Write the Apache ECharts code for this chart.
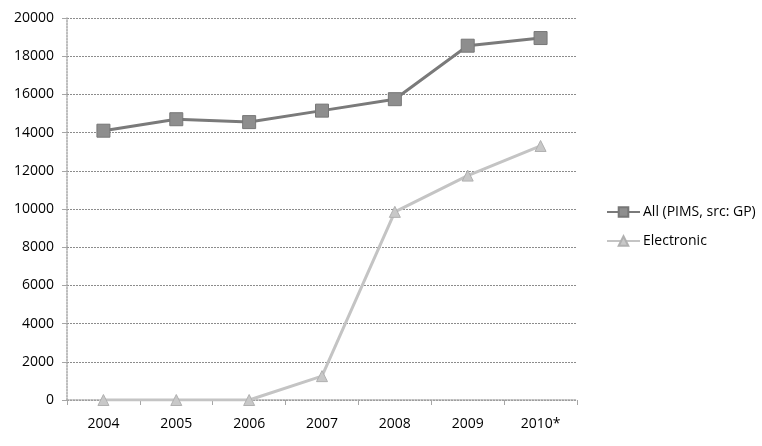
<!DOCTYPE html>
<html><head><meta charset="utf-8">
<script src="https://cdn.jsdelivr.net/npm/echarts@6/dist/echarts.min.js"></script>
<style>html,body{margin:0;padding:0;background:#fff}#c{width:762px;height:446px}</style>
</head><body><div id="c"></div>
<script>
const categories = ['2004','2005','2006','2007','2008','2009','2010*'];
const allValues = [14100, 14700, 14550, 15150, 15750, 18550, 18950];
const electronicValues = [0, 0, 0, 1250, 9850, 11750, 13300];
const yTicks = [0,2000,4000,6000,8000,10000,12000,14000,16000,18000,20000];

const chart = echarts.init(document.getElementById('c'));
const font = '"Open Sans", "Noto Sans", sans-serif';
chart.setOption({
  animation: false,
  backgroundColor: '#fff',
  textStyle: { fontFamily: font },
  grid: { left: 67, right: 185, top: 18, bottom: 46 },
  legend: {
    orient: 'vertical', left: 601, top: 200, itemGap: 15,
    itemWidth: 33, itemHeight: 12,
    textStyle: { fontSize: 14, color: '#000', fontFamily: font, padding: [0,0,0,-2] },
    data: ['All (PIMS, src: GP)', 'Electronic']
  },
  xAxis: {
    type: 'category', data: categories, boundaryGap: true,
    axisLine: { lineStyle: { color: '#a6a6a6', width: 1.5, type: 'dotted' } },
    axisTick: { show: true, length: 5, lineStyle: { color: '#a6a6a6' } },
    axisLabel: { fontSize: 14, color: '#000', margin: 17, fontFamily: font }
  },
  yAxis: {
    type: 'value', min: 0, max: 20000, interval: 2000,
    axisLine: { show: true, lineStyle: { color: '#a6a6a6', width: 1.5, type: 'dotted' } },
    axisTick: { show: true, length: 5, lineStyle: { color: '#a6a6a6' } },
    axisLabel: { fontSize: 14, color: '#000', margin: 13, fontFamily: font,
      formatter: v => yTicks.includes(v) ? String(v) : '' },
    splitLine: { show: true, lineStyle: { color: '#8c8c8c', width: 1, type: [2,1] } }
  },
  series: [
    {
      name: 'All (PIMS, src: GP)', type: 'line', data: allValues,
      symbol: 'rect', symbolSize: 13,
      lineStyle: { color: '#7a7a7a', width: 3 },
      itemStyle: { color: '#8e8e8e', borderColor: '#777', borderWidth: 1 }
    },
    {
      name: 'Electronic', type: 'line', data: electronicValues,
      symbol: 'triangle', symbolSize: 11,
      lineStyle: { color: '#c4c4c4', width: 3 },
      itemStyle: { color: '#c8c8c8', borderColor: '#b0b0b0', borderWidth: 1 }
    }
  ]
});
</script></body></html>
